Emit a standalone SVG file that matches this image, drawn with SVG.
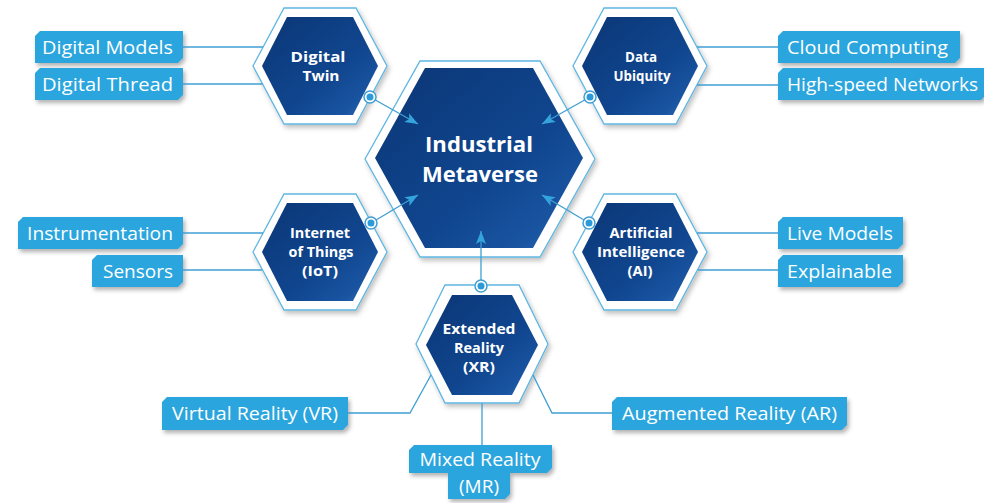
<svg xmlns="http://www.w3.org/2000/svg" width="984" height="503" viewBox="0 0 984 503">
<defs>
<style>
.outer{fill:#ffffff;stroke:#5fb6e2;stroke-width:1.3;filter:url(#sh)}
.dark{fill:url(#dg)}
.box{fill:#2ba5de;filter:url(#bs)}
.lbl{font-family:"Open Sans","Noto Sans",sans-serif;font-size:19px;fill:#ffffff}
.nt{font-family:"Open Sans","Noto Sans",sans-serif;font-size:13.8px;font-weight:bold;fill:#ffffff;text-anchor:middle}
.ct{font-family:"Open Sans","Noto Sans",sans-serif;font-size:21.8px;font-weight:bold;fill:#ffffff;text-anchor:middle}
.ln{fill:none;stroke:#3f9fd3;stroke-width:1.3}
.ar{fill:none;stroke:#3f9fd3;stroke-width:1.3;marker-end:url(#ah)}
.ring{fill:#ffffff;stroke:#3f9fd3;stroke-width:1.5}
.dot{fill:#2a9ad8}
</style>
<linearGradient id="dg" x1="0" y1="0" x2="1" y2="1">
<stop offset="0" stop-color="#0b3676"/>
<stop offset="0.6" stop-color="#10468f"/>
<stop offset="0.85" stop-color="#1a55a2"/>
<stop offset="1" stop-color="#3577c0"/>
</linearGradient>
<filter id="sh" x="-20%" y="-20%" width="140%" height="140%">
<feDropShadow dx="2" dy="3" stdDeviation="2.5" flood-color="#000000" flood-opacity="0.25"/>
</filter>
<filter id="bs" x="-10%" y="-20%" width="120%" height="150%">
<feDropShadow dx="2" dy="3" stdDeviation="2" flood-color="#000000" flood-opacity="0.3"/>
</filter>
<marker id="ah" markerUnits="userSpaceOnUse" markerWidth="14" markerHeight="10" refX="13" refY="5" orient="auto">
<path d="M0,0 L13,5 L0,10 L3,5 z" fill="#35a4dc"/>
</marker>
</defs>
<rect x="0" y="0" width="984" height="503" fill="#ffffff"/>

<g id="node-industrial-metaverse">
<polygon class="outer" points="365,159 420,61 540,61 595,159 540,257 420,257"/>
<polygon class="dark" points="375,158 425,68 533,68 583,158 533,248 425,248"/>
<text class="ct" x="479" y="152" textLength="108" lengthAdjust="spacingAndGlyphs">Industrial</text>
<text class="ct" x="480" y="182" textLength="116" lengthAdjust="spacingAndGlyphs">Metaverse</text>
</g>

<g id="node-digital-twin">
<polygon class="outer" points="253,66 284,8 356,8 387,66 356,124 284,124"/>
<polygon class="dark" points="262,66 287,17 353,17 378,66 353,115 287,115"/>
<text class="nt" x="318" y="62" textLength="55" lengthAdjust="spacingAndGlyphs">Digital</text>
<text class="nt" x="321" y="81" textLength="37" lengthAdjust="spacingAndGlyphs">Twin</text>
</g>

<g id="node-data-ubiquity">
<polygon class="outer" points="573,66 604,8 676,8 707,66 676,124 604,124"/>
<polygon class="dark" points="582,66 607,17 673,17 698,66 673,115 607,115"/>
<text class="nt" x="641" y="62" textLength="32" lengthAdjust="spacingAndGlyphs">Data</text>
<text class="nt" x="642" y="81" textLength="57" lengthAdjust="spacingAndGlyphs">Ubiquity</text>
</g>

<g id="node-iot">
<polygon class="outer" points="253,252 284,194 356,194 387,252 356,310 284,310"/>
<polygon class="dark" points="262,252 287,203 353,203 378,252 353,301 287,301"/>
<text class="nt" x="320" y="238" textLength="60" lengthAdjust="spacingAndGlyphs">Internet</text>
<text class="nt" x="321" y="257" textLength="65" lengthAdjust="spacingAndGlyphs">of Things</text>
<text class="nt" x="320" y="276" textLength="36" lengthAdjust="spacingAndGlyphs">(IoT)</text>
</g>

<g id="node-ai">
<polygon class="outer" points="573,252 604,194 676,194 707,252 676,310 604,310"/>
<polygon class="dark" points="582,252 607,203 673,203 698,252 673,301 607,301"/>
<text class="nt" x="641" y="238" textLength="63" lengthAdjust="spacingAndGlyphs">Artificial</text>
<text class="nt" x="641" y="257" textLength="88" lengthAdjust="spacingAndGlyphs">Intelligence</text>
<text class="nt" x="640" y="276" textLength="25" lengthAdjust="spacingAndGlyphs">(AI)</text>
</g>

<g id="node-xr">
<polygon class="outer" points="416,344 445,285 519,285 548,344 519,403 445,403"/>
<polygon class="dark" points="426,345 452,295 512,295 538,345 512,395 452,395"/>
<text class="nt" x="479" y="334" textLength="73" lengthAdjust="spacingAndGlyphs">Extended</text>
<text class="nt" x="479" y="353" textLength="50" lengthAdjust="spacingAndGlyphs">Reality</text>
<text class="nt" x="479" y="372" textLength="32" lengthAdjust="spacingAndGlyphs">(XR)</text>
</g>

<g id="node-digital-models">
<polygon class="box" points="40,31 183,31 183,58 178,63 35,63 35,36"/>
<text class="lbl" x="173" y="54" text-anchor="end" textLength="131" lengthAdjust="spacingAndGlyphs">Digital Models</text>
</g>
<g id="node-digital-thread">
<polygon class="box" points="40,68 183,68 183,95 178,100 35,100 35,73"/>
<text class="lbl" x="173" y="91" text-anchor="end" textLength="131" lengthAdjust="spacingAndGlyphs">Digital Thread</text>
</g>
<g id="node-cloud-computing">
<polygon class="box" points="783,31 960,31 960,58 955,63 778,63 778,36"/>
<text class="lbl" x="787" y="54" textLength="161" lengthAdjust="spacingAndGlyphs">Cloud Computing</text>
</g>
<g id="node-high-speed-networks">
<polygon class="box" points="783,68 986,68 986,95 981,100 778,100 778,73"/>
<text class="lbl" x="787" y="91" textLength="191" lengthAdjust="spacingAndGlyphs">High-speed Networks</text>
</g>
<g id="node-instrumentation">
<polygon class="box" points="23,217 183,217 183,244 178,249 18,249 18,222"/>
<text class="lbl" x="173" y="240" text-anchor="end" textLength="146" lengthAdjust="spacingAndGlyphs">Instrumentation</text>
</g>
<g id="node-sensors">
<polygon class="box" points="97,255 183,255 183,282 178,287 92,287 92,260"/>
<text class="lbl" x="173" y="278" text-anchor="end" textLength="70" lengthAdjust="spacingAndGlyphs">Sensors</text>
</g>
<g id="node-live-models">
<polygon class="box" points="783,217 903,217 903,244 898,249 778,249 778,222"/>
<text class="lbl" x="787" y="240" textLength="106" lengthAdjust="spacingAndGlyphs">Live Models</text>
</g>
<g id="node-explainable">
<polygon class="box" points="783,255 903,255 903,282 898,287 778,287 778,260"/>
<text class="lbl" x="787" y="278" textLength="105" lengthAdjust="spacingAndGlyphs">Explainable</text>
</g>
<g id="node-vr">
<polygon class="box" points="167,397 348,397 348,425 343,430 162,430 162,402"/>
<text class="lbl" x="172" y="420" textLength="166" lengthAdjust="spacingAndGlyphs">Virtual Reality (VR)</text>
</g>
<g id="node-ar">
<polygon class="box" points="617,397 847,397 847,425 842,430 612,430 612,402"/>
<text class="lbl" x="622" y="420" textLength="215" lengthAdjust="spacingAndGlyphs">Augmented Reality (AR)</text>
</g>
<g id="node-mr">
<polygon class="box" points="414,445 552,445 552,468 547,473 510,473 510,494 505,499 448,499 448,473 409,473 409,450"/>
<text class="lbl" x="480" y="466" text-anchor="middle" textLength="121" lengthAdjust="spacingAndGlyphs">Mixed Reality</text>
<text class="lbl" x="479" y="493" text-anchor="middle" textLength="40" lengthAdjust="spacingAndGlyphs">(MR)</text>
</g>

<g id="connectors">
<line class="ln" x1="183" y1="47" x2="263" y2="47"/>
<line class="ln" x1="183" y1="84" x2="262.6" y2="84"/>
<line class="ln" x1="697" y1="47" x2="778" y2="47"/>
<line class="ln" x1="697" y1="85" x2="778" y2="85"/>
<line class="ln" x1="183" y1="233" x2="263" y2="233"/>
<line class="ln" x1="183" y1="270" x2="262" y2="270"/>
<line class="ln" x1="697" y1="233" x2="778" y2="233"/>
<line class="ln" x1="698" y1="270" x2="778" y2="270"/>
<polyline class="ln" points="431,375 410,413 348,413"/>
<polyline class="ln" points="533,375 552,413 612,413"/>
<line class="ln" x1="482" y1="403" x2="482" y2="445"/>
<line class="ar" x1="370" y1="97" x2="418" y2="124"/>
<line class="ar" x1="590" y1="97" x2="542" y2="124"/>
<line class="ar" x1="371" y1="223" x2="418" y2="195"/>
<line class="ar" x1="589" y1="223" x2="542" y2="195"/>
<line class="ar" x1="481" y1="286" x2="481" y2="231"/>
<circle class="ring" cx="370" cy="97" r="6"/><circle class="dot" cx="370" cy="97" r="3.5"/>
<circle class="ring" cx="590" cy="97" r="6"/><circle class="dot" cx="590" cy="97" r="3.5"/>
<circle class="ring" cx="371" cy="223" r="6"/><circle class="dot" cx="371" cy="223" r="3.5"/>
<circle class="ring" cx="589" cy="223" r="6"/><circle class="dot" cx="589" cy="223" r="3.5"/>
<circle class="ring" cx="481" cy="286" r="6"/><circle class="dot" cx="481" cy="286" r="3.5"/>
</g>
</svg>
